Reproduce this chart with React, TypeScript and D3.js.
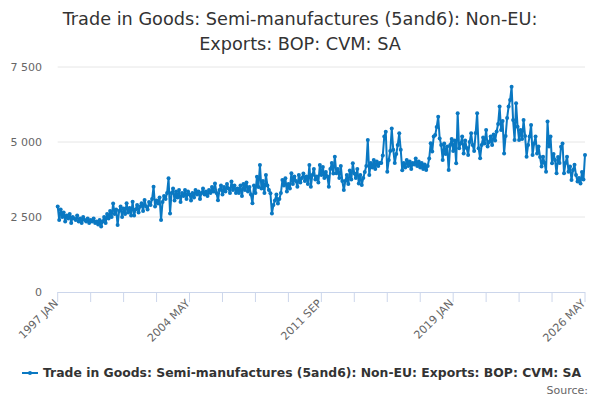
import * as d3 from 'd3';

// monthly values, 1997 JAN .. 2026 MAY
const y1997 = [2850, 2400, 2750, 2500, 2650, 2350, 2550, 2450, 2600, 2300, 2500, 2450];
const y1998 = [2400, 2550, 2350, 2450, 2300, 2500, 2400, 2350, 2450, 2300, 2400, 2350];
const y1999 = [2450, 2300, 2350, 2250, 2400, 2180, 2350, 2500, 2300, 2600, 2450, 2700];
const y2000 = [2500, 2950, 2600, 2750, 2230, 2700, 2850, 2500, 2780, 2600, 2960, 2650];
const y2001 = [2800, 2550, 3010, 2550, 2750, 2900, 2650, 2850, 2960, 2700, 3070, 2850];
const y2002 = [2750, 3000, 2900, 3100, 3510, 2850, 3050, 2950, 3150, 2400, 3000, 3200];
const y2003 = [3100, 3300, 3790, 2620, 3300, 3450, 3050, 3350, 3150, 3400, 3000, 3300];
const y2004 = [3200, 3400, 3100, 3350, 3250, 3050, 3300, 3150, 3400, 3250, 3350, 3100];
const y2005 = [3300, 3450, 3250, 3350, 3200, 3400, 3300, 3500, 3350, 3620, 3300, 3060];
const y2006 = [3400, 3550, 3250, 3500, 3350, 3600, 3450, 3300, 3680, 3400, 3550, 3300];
const y2007 = [3450, 3300, 3550, 3200, 3600, 3400, 3650, 3350, 3500, 3250, 2955, 3550];
const y2008 = [3300, 3840, 3500, 4230, 3450, 3700, 3300, 3900, 3550, 3400, 3290, 2620];
const y2009 = [2900, 3050, 3250, 2950, 3100, 3300, 3730, 3550, 3790, 3350, 3600, 3450];
const y2010 = [3960, 3600, 3850, 3700, 3510, 3900, 3650, 3800, 3950, 3700, 3850, 3600];
const y2011 = [4230, 3510, 3900, 4100, 3750, 3850, 3650, 4230, 3900, 4170, 3800, 4000];
const y2012 = [3850, 3510, 4100, 4300, 3950, 4510, 3960, 4100, 3800, 4200, 3700, 3400];
const y2013 = [3700, 3900, 3600, 4050, 3750, 4290, 3950, 3800, 4100, 3620, 3900, 3570];
const y2014 = [3800, 4000, 4200, 5070, 3900, 4300, 4150, 4400, 4100, 4350, 4200, 4300];
const y2015 = [4300, 4550, 5180, 5340, 4010, 4400, 4700, 5450, 4740, 4300, 4600, 4900];
const y2016 = [5290, 4740, 4060, 4300, 4150, 4400, 4200, 4350, 4100, 4300, 4250, 4450];
const y2017 = [4200, 4350, 4150, 4300, 4100, 4250, 4070, 4200, 4450, 4960, 4680, 5180];
const y2018 = [5230, 5500, 5840, 5120, 4900, 4400, 4950, 4600, 4850, 4070, 4900, 5100];
const y2019 = [4700, 5050, 4290, 5960, 4790, 4950, 5180, 4620, 5050, 4800, 4570, 5000];
const y2020 = [5290, 4900, 4700, 5300, 5960, 4790, 4460, 4900, 5150, 4950, 5400, 4850];
const y2021 = [5000, 5180, 4900, 5250, 5050, 5350, 5600, 6180, 5400, 5700, 4620, 5200];
const y2022 = [5800, 6180, 6400, 6840, 5730, 5070, 6290, 5510, 5070, 5400, 5100, 5730];
const y2023 = [5200, 4510, 4900, 5180, 5570, 4570, 4950, 5180, 4620, 4850, 4500, 4180];
const y2024 = [4510, 4300, 4010, 5680, 4850, 5180, 4290, 4600, 4400, 3960, 4500, 4300];
const y2025 = [4840, 4950, 3960, 4300, 4510, 4010, 4180, 3730, 4070, 4240, 3900, 3680];
const y2026 = [3800, 3620, 4000, 3750, 4570];

const years = d3.range(1997, 2027);
const months = ['JAN', 'FEB', 'MAR', 'APR', 'MAY', 'JUN', 'JUL', 'AUG', 'SEP', 'OCT', 'NOV', 'DEC'];
const yTicks = [0, 2500, 5000, 7500];

const values = [
  ...y1997, ...y1998, ...y1999, ...y2000, ...y2001, ...y2002, ...y2003, ...y2004,
  ...y2005, ...y2006, ...y2007, ...y2008, ...y2009, ...y2010, ...y2011, ...y2012,
  ...y2013, ...y2014, ...y2015, ...y2016, ...y2017, ...y2018, ...y2019, ...y2020,
  ...y2021, ...y2022, ...y2023, ...y2024, ...y2025, ...y2026,
];
const categories = years.flatMap((y) => months.map((m) => `${y} ${m}`)).slice(0, values.length);

const seriesName = 'Trade in Goods: Semi-manufactures (5and6): Non-EU: Exports: BOP: CVM: SA';
const color = '#0a78c2';
const font = '"DejaVu Sans", sans-serif';

export default function App() {
  const width = 600;
  const height = 400;
  const margin = {top: 67, right: 15, bottom: 108, left: 57.7};

  const x = d3
    .scalePoint<string>()
    .domain(categories)
    .range([margin.left, width - margin.right]);
  const y = d3
    .scaleLinear()
    .domain([0, 7500])
    .range([height - margin.bottom, margin.top]);

  const line = d3
    .line<number>()
    .x((_, i) => x(categories[i])!)
    .y((d) => y(d));

  const tickCats = categories.filter((_, i) => i % 22 === 0);
  const labelCats = categories.filter((_, i) => i % 88 === 0);
  const y0 = y(0);

  return (
    <svg
      width={width}
      height={height}
      style={{position: 'absolute', left: 0, top: 0, background: '#fff', fontFamily: font}}
    >
      <text x={300} y={25} textAnchor="middle" fontSize={17.7} fill="#333">
        Trade in Goods: Semi-manufactures (5and6): Non-EU:
      </text>
      <text x={300} y={50} textAnchor="middle" fontSize={17.7} fill="#333">
        Exports: BOP: CVM: SA
      </text>

      {yTicks.map((t) => (
        <g key={t}>
          {t > 0 && (
            <line x1={margin.left} x2={width - margin.right} y1={y(t)} y2={y(t)} stroke="#e6e6e6" />
          )}
          <text x={42} y={y(t) + 4} textAnchor="end" fontSize={11} fill="#666">
            {d3.format(',')(t).replace(',', ' ')}
          </text>
        </g>
      ))}

      <line x1={margin.left} x2={width - margin.right} y1={y0 + 0.5} y2={y0 + 0.5} stroke="#ccd6eb" />
      {tickCats.map((c) => (
        <line key={c} x1={x(c)} x2={x(c)} y1={y0} y2={y0 + 10} stroke="#ccd6eb" />
      ))}
      {labelCats.map((c) => (
        <text
          key={c}
          transform={`translate(${x(c)! + 1},${y0 + 12}) rotate(-45)`}
          textAnchor="end"
          fontSize={11}
          fill="#666"
        >
          {c}
        </text>
      ))}

      <path d={line(values) ?? ''} fill="none" stroke={color} strokeWidth={2} strokeLinejoin="round" />
      {values.map((v, i) => (
        <circle key={i} cx={x(categories[i])} cy={y(v)} r={2} fill={color} />
      ))}

      <line x1={22} x2={38} y1={373} y2={373} stroke={color} strokeWidth={2} />
      <circle cx={30} cy={373} r={2} fill={color} />
      <text x={43} y={377} fontSize={12.4} fontWeight="bold" fill="#333">
        {seriesName}
      </text>
      <text x={588} y={394} textAnchor="end" fontSize={11} fill="#666">
        Source:
      </text>
    </svg>
  );
}
